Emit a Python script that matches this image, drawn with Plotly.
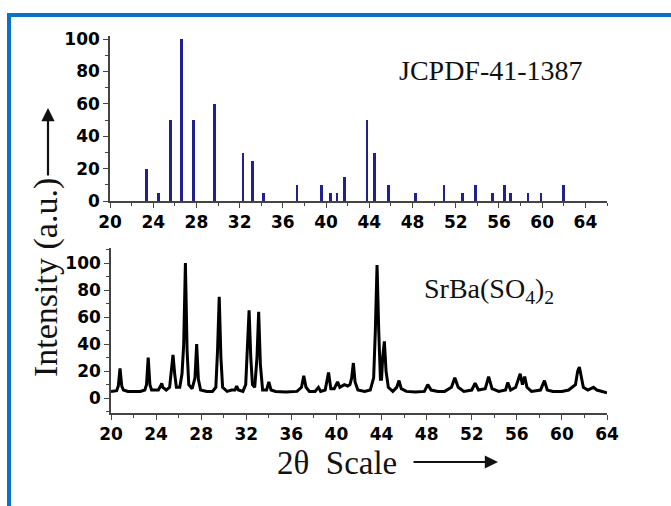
import plotly.graph_objects as go

W, H = 671, 506

# Reference pattern (JCPDF-41-1387): 2theta positions and relative intensities
ref_2theta = [23.4, 24.5, 25.6, 26.6, 27.7, 29.7, 32.3, 33.2, 34.2, 37.3, 39.6, 40.4,
              41.0, 41.7, 43.8, 44.5, 45.8, 48.3, 50.9, 52.6, 53.8, 55.4, 56.5, 57.1,
              58.7, 59.9, 62.0]
ref_intensity = [20, 5, 50, 100, 50, 60, 30, 25, 5, 10, 10, 5,
                 5, 15, 50, 30, 10, 5, 10, 5, 10, 5, 10, 5,
                 5, 5, 10]

meas_2theta = [20.0, 20.5, 20.65, 20.8, 20.95, 21.1, 21.5, 22.0, 22.6, 23.0, 23.15, 23.3,
               23.45, 23.6, 24.2, 24.4, 24.5, 24.6, 24.9, 25.2, 25.35, 25.5, 25.65, 25.8,
               26.1, 26.3, 26.45, 26.6, 26.75, 26.9, 27.2, 27.45, 27.6, 27.75, 27.95, 28.5,
               29.0, 29.3, 29.45, 29.6, 29.75, 29.9, 30.3, 30.7, 31.0, 31.15, 31.3, 31.7,
               31.95, 32.1, 32.25, 32.4, 32.55, 32.75, 32.95, 33.1, 33.25, 33.45, 33.8, 34.0,
               34.2, 34.6, 35.5, 36.5, 36.9, 37.1, 37.3, 37.6, 38.1, 38.4, 38.6, 39.0,
               39.3, 39.5, 39.8, 40.1, 40.3, 40.7, 41.0, 41.2, 41.35, 41.5, 41.65, 41.9,
               42.5, 43.0, 43.3, 43.45, 43.6, 43.75, 43.9, 44.0, 44.1, 44.25, 44.4, 44.6,
               45.0, 45.35, 45.55, 45.75, 46.2, 47.0, 47.8, 48.1, 48.4, 49.0, 49.6, 50.2,
               50.5, 50.8, 51.3, 52.0, 52.3, 52.6, 53.2, 53.5, 53.8, 54.4, 55.0, 55.2,
               55.45, 55.9, 56.1, 56.3, 56.5, 56.7, 56.9, 57.3, 58.1, 58.45, 58.7, 59.2,
               60.0, 60.6, 61.2, 61.4, 61.55, 61.7, 61.9, 62.3, 62.6, 62.8, 63.1, 63.5,
               64.0]
meas_intensity = [5, 5.5, 9, 22, 9, 6, 5, 5, 5, 6, 10, 30,
                  10, 6, 6, 9, 11, 8, 6, 8, 20, 32, 18, 8,
                  8, 18, 40, 100, 35, 10, 7, 15, 40, 14, 6, 5,
                  5, 8, 35, 75, 30, 8, 5, 6, 6, 9, 6, 5,
                  10, 40, 65, 30, 10, 8, 30, 64, 25, 6, 6, 12,
                  6, 5, 4.5, 5, 8, 16.5, 8, 5, 5, 8, 5, 6,
                  19, 7, 7, 12, 8, 10, 9, 10, 15, 26, 12, 6,
                  5, 6, 15, 50, 98.5, 50, 14, 14, 30, 42, 20, 8,
                  5, 8, 13, 7, 5, 4.5, 5, 10, 6, 5, 5, 8,
                  15, 8, 5, 6, 11, 6, 7, 16, 7, 5, 6, 11.6,
                  6, 8, 14, 18, 10, 16, 8, 5, 6, 13, 6, 5,
                  5, 6, 10, 20, 23, 16, 8, 6, 7, 8, 6, 5,
                  4]

x_ticks = list(range(20, 65, 4))
y_ticks = [0, 20, 40, 60, 80, 100]

fig = go.Figure()
fig.add_trace(go.Bar(x=ref_2theta, y=ref_intensity, width=0.25,
                     marker=dict(color="#20208f", line=dict(width=0)),
                     xaxis="x", yaxis="y", showlegend=False))
fig.add_trace(go.Scatter(x=meas_2theta, y=meas_intensity, mode="lines",
                         line=dict(color="black", width=3),
                         xaxis="x2", yaxis="y2", showlegend=False))

tickfont = dict(family="DejaVu Sans", size=17, color="black", weight="bold")
axcommon = dict(showline=True, linecolor="#444", linewidth=1.5, ticks="outside",
                ticklen=5, tickcolor="#444", tickwidth=1.3, showgrid=False,
                zeroline=False, tickfont=tickfont, fixedrange=True, automargin=False)
minor_x = dict(dtick=2, tick0=20, ticklen=3, ticks="outside", tickcolor="#444")
minor_y = dict(dtick=10, tick0=0, ticklen=3, ticks="outside", tickcolor="#444")

fig.update_layout(
    template="none",
    width=W, height=H,
    margin=dict(l=0, r=0, t=0, b=0, pad=0, autoexpand=False),
    paper_bgcolor="white", plot_bgcolor="white",
    xaxis=dict(domain=[110 / W, 607 / W], range=[20, 66], anchor="y",
               tickvals=x_ticks, minor=minor_x, **axcommon),
    yaxis=dict(domain=[1 - 201 / H, 1 - 35.8 / H], range=[0, 102], anchor="x",
               tickvals=y_ticks, minor=minor_y, **axcommon),
    xaxis2=dict(domain=[111 / W, 607 / W], range=[20, 64], anchor="y2",
                tickvals=x_ticks, minor=minor_x, **axcommon),
    yaxis2=dict(domain=[1 - 413 / H, 1 - 248.2 / H], range=[-11, 111], anchor="x2",
                tickvals=y_ticks, minor=minor_y, **axcommon),
    bargap=0,
)

# blue frame
blue = "#0a72c6"
fig.add_shape(type="rect", xref="paper", yref="paper", x0=7 / W, x1=1.0,
              y0=1 - 17 / H, y1=1 - 13 / H, fillcolor=blue, line=dict(width=0))
fig.add_shape(type="rect", xref="paper", yref="paper", x0=7 / W, x1=11 / W,
              y0=0, y1=1 - 13 / H, fillcolor=blue, line=dict(width=0))

serif = "Liberation Serif"
common_anno = dict(xref="paper", yref="paper", xanchor="center", yanchor="middle")
fig.add_annotation(x=491 / W, y=1 - 71 / H, text="JCPDF-41-1387", showarrow=False,
                   font=dict(family=serif, size=28, color="#111"), **common_anno)
fig.add_annotation(x=489 / W, y=1 - 290 / H, text="SrBa(SO<sub>4</sub>)<sub>2</sub>",
                   showarrow=False, font=dict(family=serif, size=28, color="#111"), **common_anno)
fig.add_annotation(x=337 / W, y=1 - 463 / H, text="2θ\u00a0\u00a0Scale", showarrow=False,
                   font=dict(family=serif, size=33, color="#111"), **common_anno)
fig.add_annotation(x=498 / W, y=1 - 462 / H, ax=-86, ay=0, text="", showarrow=True,
                   arrowhead=2, arrowsize=1.2, arrowwidth=2.2, arrowcolor="#111", **common_anno)
fig.add_annotation(x=46 / W, y=1 - 278 / H, text="Intensity (a.u.)", showarrow=False,
                   textangle=-90, font=dict(family=serif, size=34, color="#111"), **common_anno)
fig.add_annotation(x=48 / W, y=1 - 108 / H, ax=0, ay=69, text="", showarrow=True,
                   arrowhead=2, arrowsize=1.2, arrowwidth=2.2, arrowcolor="#111", **common_anno)

fig.write_html("out.html", config={"displayModeBar": False},
               post_script="document.body.style.margin='0px';")
